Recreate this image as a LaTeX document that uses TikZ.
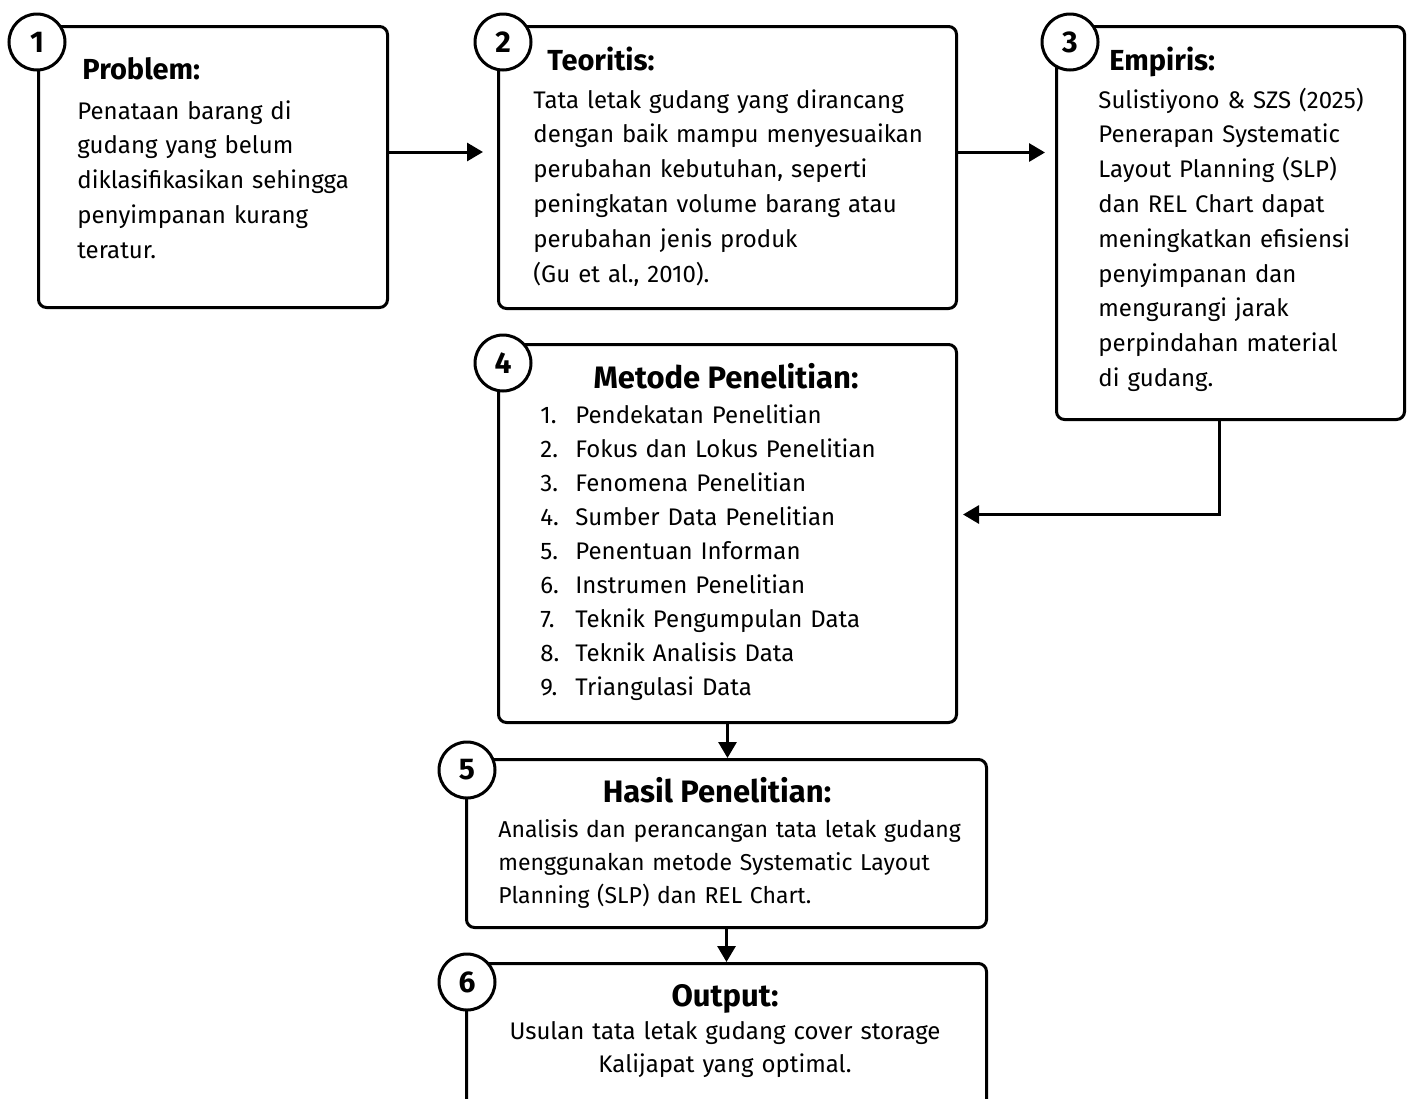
\documentclass[tikz,border=0pt]{standalone}
\usepackage{fontspec}
\setmainfont{Fira Sans}
\usetikzlibrary{arrows.meta,positioning}
\newcommand\bodyfont{\fontsize{12}{17.4}\selectfont}
\newcommand\headfont{\fontsize{14.5}{14.5}\selectfont\bfseries}
\newcommand\bigheadfont{\fontsize{15.5}{15.5}\selectfont\bfseries}
\newcommand\itm[2]{\makebox[17.5pt][l]{#1.}#2}

\begin{document}
\begin{tikzpicture}[
  x=0.5pt,y=-0.5pt,
  box/.style={draw,line width=1.5pt,rounded corners=4pt,anchor=north west,inner sep=0pt},
  num/.style={circle,draw,line width=1.5pt,fill=white,minimum size=28pt,inner sep=0pt,font=\fontsize{15}{15}\selectfont\bfseries},
  head/.style={anchor=base west,inner sep=0pt,font=\headfont},
  body/.style={anchor=base west,inner sep=0pt,align=left,text width=240pt,font=\bodyfont},
  line/.style={-{Triangle[length=8pt,width=9pt]},line width=1.5pt}
]
\path[use as bounding box,fill=white] (0,0) rectangle (1411,1098);

% boxes
\node[box,minimum width=174.5pt,minimum height=140.5pt] (prob) at (37,25) {};
\node[box,minimum width=229pt,minimum height=141pt] (teori) at (497,25) {};
\node[box,minimum width=174pt,minimum height=196.5pt] (empir) at (1055,25) {};
\node[box,minimum width=229pt,minimum height=189pt] (metode) at (497,343) {};
\node[box,minimum width=260pt,minimum height=84pt] (hasil) at (465,758) {};
\node[box,minimum width=260pt,minimum height=85pt] (output) at (465,962) {};

% texts
\node[head] (probhead) at (82,79) {Problem:};
\node[body] (probtext) at (77,119) {Penataan barang di\\gudang yang belum\\diklasifikasikan sehingga\\penyimpanan kurang\\teratur.};

\node[head] (teorihead) at (547,70) {Teoritis:};
\node[body] (teoritext) at (533,108) {Tata letak gudang yang dirancang\\dengan baik mampu menyesuaikan\\perubahan kebutuhan, seperti\\peningkatan volume barang atau\\perubahan jenis produk\\(Gu et al., 2010).};

\node[head] (empirhead) at (1109,70) {Empiris:};
\node[body] (empirtext) at (1098,108) {Sulistiyono \& SZS (2025)\\Penerapan Systematic\\Layout Planning (SLP)\\dan REL Chart dapat\\meningkatkan efisiensi\\penyimpanan dan\\mengurangi jarak\\perpindahan material\\di gudang.};

\node[head,anchor=base,font=\bigheadfont] (metodehead) at (726,388) {Metode Penelitian:};
\node[body,font=\fontsize{12}{17}\selectfont] (metodetext) at (540,423) {\itm{1}{Pendekatan Penelitian}\\\itm{2}{Fokus dan Lokus Penelitian}\\\itm{3}{Fenomena Penelitian}\\\itm{4}{Sumber Data Penelitian}\\\itm{5}{Penentuan Informan}\\\itm{6}{Instrumen Penelitian}\\\itm{7}{Teknik Pengumpulan Data}\\\itm{8}{Teknik Analisis Data}\\\itm{9}{Triangulasi Data}};

\node[head,anchor=base,font=\bigheadfont] (hasilhead) at (717,802) {Hasil Penelitian:};
\node[body,text width=300pt,font=\fontsize{11.5}{16.5}\selectfont] (hasiltext) at (498,837) {Analisis dan perancangan tata letak gudang\\menggunakan metode Systematic Layout\\Planning (SLP) dan REL Chart.};

\node[head,anchor=base,font=\bigheadfont] (outhead) at (725,1006) {Output:};
\node[body,anchor=base,align=center,font=\fontsize{12}{16.5}\selectfont] (outtext) at (725,1039) {Usulan tata letak gudang cover storage\\Kalijapat yang optimal.};

% numbers
\node[num] (n1) at ([shift={(0,17)}]prob.north west) {1};
\node[num] (n2) at ([shift={(6,17)}]teori.north west) {2};
\node[num] (n3) at ([shift={(15,17)}]empir.north west) {3};
\node[num] (n4) at ([shift={(6,20)}]metode.north west) {4};
\node[num] (n5) at ([shift={(2,12)}]hasil.north west) {5};
\node[num] (n6) at ([shift={(2,20)}]output.north west) {6};

% connectors
\draw[line,shorten >=7pt] ([yshift=7.5pt]prob.east) -- ([yshift=7.5pt]prob.east -| teori.west);
\draw[line,shorten >=5pt] ([yshift=7.5pt]teori.east) -- ([yshift=7.5pt]teori.east -| empir.west);
\draw[line,shorten >=2.5pt] ([xshift=-5.5pt]empir.south) |- ([yshift=9.5pt]metode.east);
\draw[line] (metode.south) -- (metode.south |- hasil.north);
\draw[line] (hasil.south) -- (hasil.south |- output.north);
\end{tikzpicture}
\end{document}
